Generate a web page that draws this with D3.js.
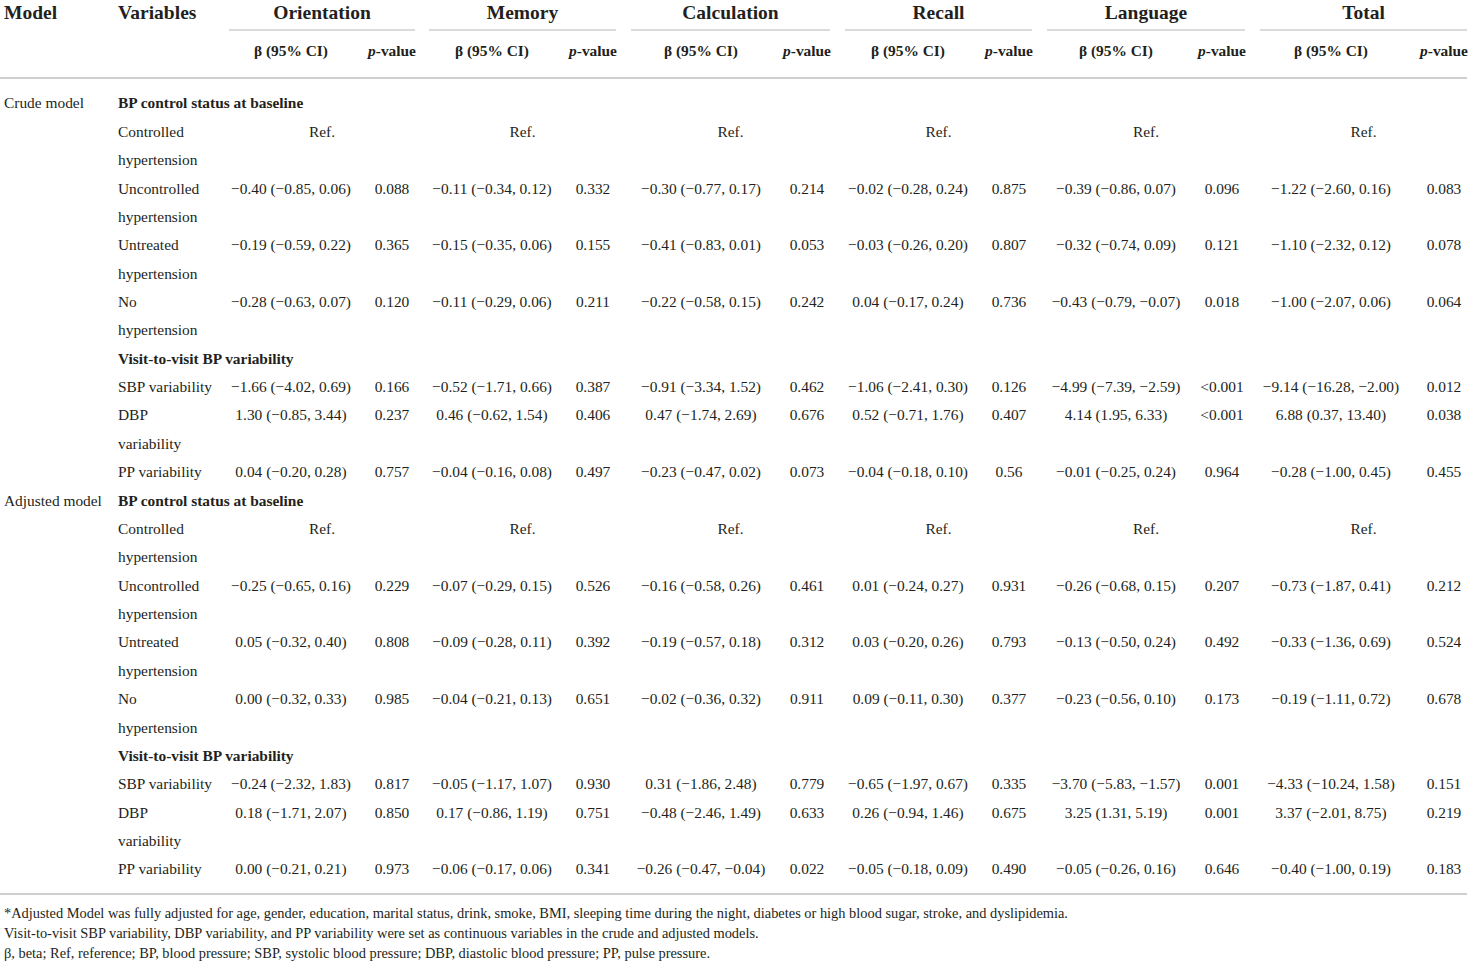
<!DOCTYPE html>
<html>
<head>
<meta charset="utf-8">
<script src="https://cdn.jsdelivr.net/npm/d3@7"></script>
<style>
  body { margin: 0; background: #fff; }
  text { font-family: "Liberation Serif", "DejaVu Serif", serif; fill: #231f20; }
</style>
</head>
<body>
<div id="chart"></div>
<script>
// Data
var domains = ["Orientation", "Memory", "Calculation", "Recall", "Language", "Total"];
var models = ["Crude model", "Adjusted model"];
var sections = ["BP control status at baseline", "Visit-to-visit BP variability"];
var statusLabels = [["Controlled", "hypertension"], ["Uncontrolled", "hypertension"], ["Untreated", "hypertension"], ["No", "hypertension"]];
var variabilityLabels = [["SBP variability"], ["DBP", "variability"], ["PP variability"]];

// rows: Uncontrolled, Untreated, No  (Controlled = Ref.)
var crudeStatusBeta = [
    ["−0.40 (−0.85, 0.06)", "−0.11 (−0.34, 0.12)", "−0.30 (−0.77, 0.17)", "−0.02 (−0.28, 0.24)", "−0.39 (−0.86, 0.07)", "−1.22 (−2.60, 0.16)"],
    ["−0.19 (−0.59, 0.22)", "−0.15 (−0.35, 0.06)", "−0.41 (−0.83, 0.01)", "−0.03 (−0.26, 0.20)", "−0.32 (−0.74, 0.09)", "−1.10 (−2.32, 0.12)"],
    ["−0.28 (−0.63, 0.07)", "−0.11 (−0.29, 0.06)", "−0.22 (−0.58, 0.15)", "0.04 (−0.17, 0.24)", "−0.43 (−0.79, −0.07)", "−1.00 (−2.07, 0.06)"]
];
var crudeStatusP = [
    ["0.088", "0.332", "0.214", "0.875", "0.096", "0.083"],
    ["0.365", "0.155", "0.053", "0.807", "0.121", "0.078"],
    ["0.120", "0.211", "0.242", "0.736", "0.018", "0.064"]
];
// rows: SBP, DBP, PP
var crudeVarBeta = [
    ["−1.66 (−4.02, 0.69)", "−0.52 (−1.71, 0.66)", "−0.91 (−3.34, 1.52)", "−1.06 (−2.41, 0.30)", "−4.99 (−7.39, −2.59)", "−9.14 (−16.28, −2.00)"],
    ["1.30 (−0.85, 3.44)", "0.46 (−0.62, 1.54)", "0.47 (−1.74, 2.69)", "0.52 (−0.71, 1.76)", "4.14 (1.95, 6.33)", "6.88 (0.37, 13.40)"],
    ["0.04 (−0.20, 0.28)", "−0.04 (−0.16, 0.08)", "−0.23 (−0.47, 0.02)", "−0.04 (−0.18, 0.10)", "−0.01 (−0.25, 0.24)", "−0.28 (−1.00, 0.45)"]
];
var crudeVarP = [
    ["0.166", "0.387", "0.462", "0.126", "<0.001", "0.012"],
    ["0.237", "0.406", "0.676", "0.407", "<0.001", "0.038"],
    ["0.757", "0.497", "0.073", "0.56", "0.964", "0.455"]
];
var adjStatusBeta = [
    ["−0.25 (−0.65, 0.16)", "−0.07 (−0.29, 0.15)", "−0.16 (−0.58, 0.26)", "0.01 (−0.24, 0.27)", "−0.26 (−0.68, 0.15)", "−0.73 (−1.87, 0.41)"],
    ["0.05 (−0.32, 0.40)", "−0.09 (−0.28, 0.11)", "−0.19 (−0.57, 0.18)", "0.03 (−0.20, 0.26)", "−0.13 (−0.50, 0.24)", "−0.33 (−1.36, 0.69)"],
    ["0.00 (−0.32, 0.33)", "−0.04 (−0.21, 0.13)", "−0.02 (−0.36, 0.32)", "0.09 (−0.11, 0.30)", "−0.23 (−0.56, 0.10)", "−0.19 (−1.11, 0.72)"]
];
var adjStatusP = [
    ["0.229", "0.526", "0.461", "0.931", "0.207", "0.212"],
    ["0.808", "0.392", "0.312", "0.793", "0.492", "0.524"],
    ["0.985", "0.651", "0.911", "0.377", "0.173", "0.678"]
];
var adjVarBeta = [
    ["−0.24 (−2.32, 1.83)", "−0.05 (−1.17, 1.07)", "0.31 (−1.86, 2.48)", "−0.65 (−1.97, 0.67)", "−3.70 (−5.83, −1.57)", "−4.33 (−10.24, 1.58)"],
    ["0.18 (−1.71, 2.07)", "0.17 (−0.86, 1.19)", "−0.48 (−2.46, 1.49)", "0.26 (−0.94, 1.46)", "3.25 (1.31, 5.19)", "3.37 (−2.01, 8.75)"],
    ["0.00 (−0.21, 0.21)", "−0.06 (−0.17, 0.06)", "−0.26 (−0.47, −0.04)", "−0.05 (−0.18, 0.09)", "−0.05 (−0.26, 0.16)", "−0.40 (−1.00, 0.19)"]
];
var adjVarP = [
    ["0.817", "0.930", "0.779", "0.335", "0.001", "0.151"],
    ["0.850", "0.751", "0.633", "0.675", "0.001", "0.219"],
    ["0.973", "0.341", "0.022", "0.490", "0.646", "0.183"]
];
var footnotes = [
    "*Adjusted Model was fully adjusted for age, gender, education, marital status, drink, smoke, BMI, sleeping time during the night, diabetes or high blood sugar, stroke, and dyslipidemia.",
    "Visit-to-visit SBP variability, DBP variability, and PP variability were set as continuous variables in the crude and adjusted models.",
    "β, beta; Ref, reference; BP, blood pressure; SBP, systolic blood pressure; DBP, diastolic blood pressure; PP, pulse pressure."
];

// Setup
var width = 1471, height = 964;
var bodySize = 15.4, headSize = 19.5, subSize = 15.4, noteSize = 14.4;
var ruleColor = "#cfcfcf";

var svg = d3.select("#chart").append("svg")
    .attr("width", width)
    .attr("height", height);

// column spans for each cognitive domain
var spanStart = d3.scaleOrdinal().domain(domains).range([229, 429, 631, 845, 1047, 1260]);
var spanEnd = d3.scaleOrdinal().domain(domains).range([415, 616, 830, 1032, 1245, 1467]);
var betaOffset = d3.scaleOrdinal().domain(domains).range([62, 63, 70, 63, 69, 71]);
var betaX = d => spanStart(d) + betaOffset(d);
var pX = d => spanEnd(d) - 23;
var spanMid = d => (spanStart(d) + spanEnd(d)) / 2;

// build the list of table lines
var lines = [];
var modelData = [
    { status: [crudeStatusBeta, crudeStatusP], vari: [crudeVarBeta, crudeVarP] },
    { status: [adjStatusBeta, adjStatusP], vari: [adjVarBeta, adjVarP] }
];
models.forEach(function (m, mi) {
    var md = modelData[mi];
    lines.push({ model: m, label: sections[0], bold: true });
    statusLabels.forEach(function (lab, i) {
        var row = { label: lab[0] };
        if (i === 0) row.ref = true;
        else { row.beta = md.status[0][i - 1]; row.p = md.status[1][i - 1]; }
        lines.push(row);
        lab.slice(1).forEach(l => lines.push({ label: l }));
    });
    lines.push({ label: sections[1], bold: true });
    variabilityLabels.forEach(function (lab, i) {
        lines.push({ label: lab[0], beta: md.vari[0][i], p: md.vari[1][i] });
        lab.slice(1).forEach(l => lines.push({ label: l }));
    });
});
lines.forEach((d, i) => d.i = i);

var y = d3.scaleLinear().domain([0, lines.length - 1]).range([103, 869]);

// Header
var header = svg.append("g");
header.append("text").attr("x", 4).attr("y", 12).attr("dy", "0.35em")
    .attr("font-size", headSize).attr("font-weight", "bold").text("Model");
header.append("text").attr("x", 118).attr("y", 12).attr("dy", "0.35em")
    .attr("font-size", headSize).attr("font-weight", "bold").text("Variables");

header.selectAll(".gtitle").data(domains).join("text")
    .attr("class", "gtitle")
    .attr("x", spanMid).attr("y", 12).attr("dy", "0.35em")
    .attr("text-anchor", "middle")
    .attr("font-size", headSize).attr("font-weight", "bold")
    .text(d => d);

header.selectAll(".gline").data(domains).join("line")
    .attr("class", "gline")
    .attr("x1", spanStart).attr("x2", spanEnd)
    .attr("y1", 30).attr("y2", 30)
    .attr("stroke", ruleColor).attr("stroke-width", 1.5);

header.selectAll(".bhead").data(domains).join("text")
    .attr("class", "bhead")
    .attr("x", betaX).attr("y", 51).attr("dy", "0.35em")
    .attr("text-anchor", "middle")
    .attr("font-size", subSize).attr("font-weight", "bold")
    .text("β (95% CI)");

var ph = header.selectAll(".phead").data(domains).join("text")
    .attr("class", "phead")
    .attr("x", pX).attr("y", 51).attr("dy", "0.35em")
    .attr("text-anchor", "middle")
    .attr("font-size", subSize).attr("font-weight", "bold");
ph.append("tspan").attr("font-style", "italic").text("p");
ph.append("tspan").text("-value");

svg.append("line").attr("x1", 0).attr("x2", 1467).attr("y1", 78).attr("y2", 78)
    .attr("stroke", ruleColor).attr("stroke-width", 2);

// Body
var body = svg.append("g");
var rows = body.selectAll(".row").data(lines).join("g")
    .attr("class", "row")
    .attr("transform", d => `translate(0, ${y(d.i)})`);

rows.filter(d => d.model).append("text")
    .attr("x", 4).attr("dy", "0.35em")
    .attr("font-size", bodySize).text(d => d.model);

rows.append("text")
    .attr("x", 118).attr("dy", "0.35em")
    .attr("font-size", bodySize)
    .attr("font-weight", d => d.bold ? "bold" : null)
    .text(d => d.label);

rows.filter(d => d.ref).selectAll(".ref").data(domains).join("text")
    .attr("class", "ref")
    .attr("x", spanMid).attr("dy", "0.35em")
    .attr("text-anchor", "middle").attr("font-size", bodySize)
    .text("Ref.");

rows.filter(d => d.beta).selectAll(".beta").data(d => domains.map((g, k) => ({ g: g, v: d.beta[k] }))).join("text")
    .attr("class", "beta")
    .attr("x", d => betaX(d.g)).attr("dy", "0.35em")
    .attr("text-anchor", "middle").attr("font-size", bodySize)
    .text(d => d.v);

rows.filter(d => d.p).selectAll(".pv").data(d => domains.map((g, k) => ({ g: g, v: d.p[k] }))).join("text")
    .attr("class", "pv")
    .attr("x", d => pX(d.g)).attr("dy", "0.35em")
    .attr("text-anchor", "middle").attr("font-size", bodySize)
    .text(d => d.v);

svg.append("line").attr("x1", 0).attr("x2", 1467).attr("y1", 894).attr("y2", 894)
    .attr("stroke", ruleColor).attr("stroke-width", 2);

// Footnotes
svg.selectAll(".note").data(footnotes).join("text")
    .attr("class", "note")
    .attr("x", 4).attr("y", (d, i) => 913 + i * 20).attr("dy", "0.35em")
    .attr("font-size", noteSize)
    .text(d => d);
</script>
</body>
</html>
